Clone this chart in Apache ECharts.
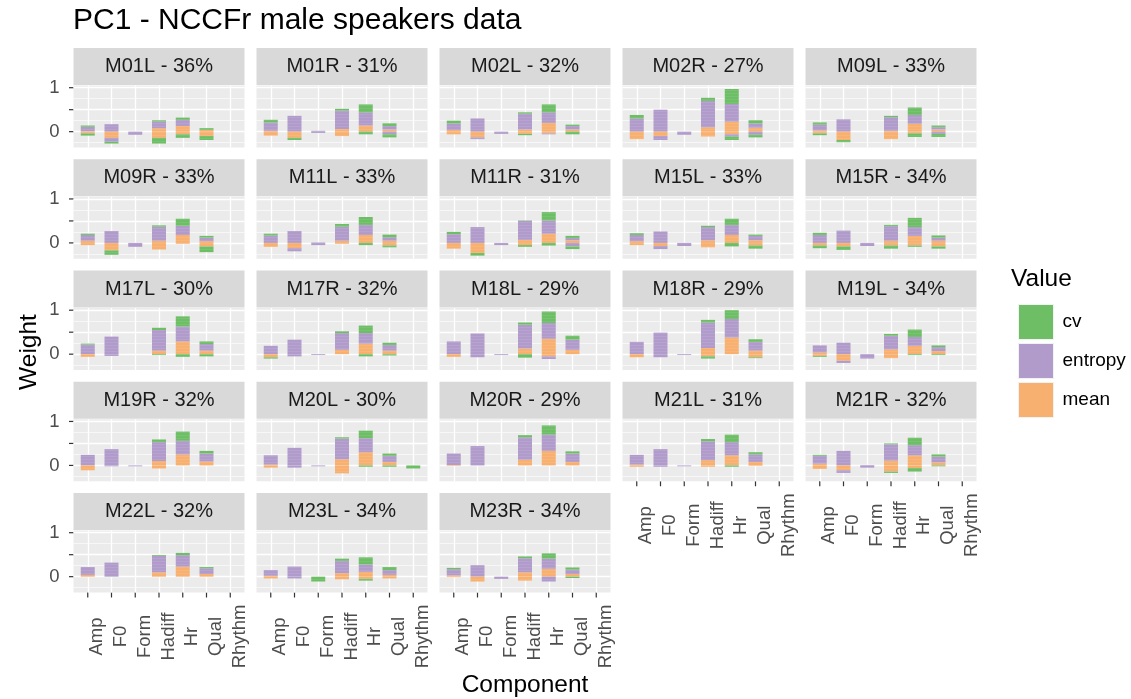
<!DOCTYPE html>
<html>
<head>
<meta charset="utf-8">
<script src="https://cdn.jsdelivr.net/npm/echarts@6/dist/echarts.min.js"></script>
<style>
  html, body { margin: 0; padding: 0; background: #fff; }
  #chart { width: 1131px; height: 699px; }
</style>
</head>
<body>
<div id="chart"></div>
<script>
// categories on the x axis of every panel
const categories = ['Amp', 'F0', 'Form', 'Hadiff', 'Hr', 'Qual', 'Rhythm'];

const panels = [
  'M01L - 36%', 'M01R - 31%', 'M02L - 32%', 'M02R - 27%', 'M09L - 33%',
  'M09R - 33%', 'M11L - 33%', 'M11R - 31%', 'M15L - 33%', 'M15R - 34%',
  'M17L - 30%', 'M17R - 32%', 'M18L - 29%', 'M18R - 29%', 'M19L - 34%',
  'M19R - 32%', 'M20L - 30%', 'M20R - 29%', 'M21L - 31%', 'M21R - 32%',
  'M22L - 32%', 'M23L - 34%', 'M23R - 34%'
];

// positive parts (stacked upward: mean, entropy, cv)
const meanPos = [
  [0.01, 0, 0, 0.08, 0.13, 0.04, 0],
  [0.02, 0, 0, 0.06, 0.14, 0.05, 0],
  [0.04, 0, 0, 0.05, 0.20, 0.05, 0],
  [0, 0, 0, 0.10, 0.23, 0.09, 0],
  [0.03, 0, 0, 0.02, 0.18, 0.05, 0],
  [0.05, 0, 0, 0.05, 0.18, 0.04, 0],
  [0, 0, 0, 0.05, 0.18, 0.05, 0],
  [0, 0, 0, 0.07, 0.21, 0.06, 0],
  [0.04, 0, 0, 0.06, 0.18, 0.06, 0],
  [0, 0, 0, 0.05, 0.16, 0.05, 0],
  [0, 0, 0, 0.08, 0.29, 0.08, 0],
  [0, 0, 0, 0.10, 0.24, 0.08, 0],
  [0, 0, 0, 0.13, 0.35, 0.10, 0],
  [0, 0, 0, 0.14, 0.38, 0.08, 0],
  [0.04, 0, 0, 0.11, 0.19, 0.07, 0],
  [0, 0, 0, 0.10, 0.25, 0.09, 0],
  [0.02, 0, 0, 0.14, 0.30, 0.08, 0],
  [0.01, 0, 0, 0.13, 0.33, 0.08, 0],
  [0.02, 0, 0, 0.12, 0.23, 0.08, 0],
  [0.04, 0, 0, 0.11, 0.23, 0.07, 0],
  [0.04, 0, 0, 0.10, 0.23, 0.06, 0],
  [0.02, 0, 0, 0.08, 0.11, 0.04, 0],
  [0.03, 0, 0, 0.10, 0.18, 0.06, 0]
];
const entropyPos = [
  [0.10, 0.17, 0, 0.15, 0.14, 0, 0],
  [0.19, 0.36, 0.02, 0.42, 0.30, 0.08, 0],
  [0.15, 0.30, 0, 0.36, 0.24, 0.08, 0],
  [0.30, 0.50, 0, 0.60, 0.40, 0.10, 0],
  [0.13, 0.28, 0, 0.31, 0.20, 0.05, 0],
  [0.13, 0.27, 0, 0.32, 0.21, 0.08, 0],
  [0.17, 0.27, 0.01, 0.32, 0.23, 0.08, 0],
  [0.20, 0.36, 0, 0.43, 0.30, 0.05, 0],
  [0.14, 0.26, 0, 0.30, 0.23, 0.10, 0],
  [0.18, 0.28, 0, 0.33, 0.20, 0.07, 0],
  [0.22, 0.40, 0, 0.47, 0.34, 0.15, 0],
  [0.19, 0.33, 0, 0.38, 0.24, 0.13, 0],
  [0.29, 0.47, 0, 0.54, 0.36, 0.23, 0],
  [0.28, 0.49, 0, 0.58, 0.42, 0.20, 0],
  [0.16, 0.26, 0, 0.31, 0.20, 0.09, 0],
  [0.24, 0.37, 0, 0.43, 0.31, 0.18, 0],
  [0.21, 0.40, 0, 0.47, 0.32, 0.14, 0],
  [0.26, 0.44, 0, 0.51, 0.37, 0.19, 0],
  [0.22, 0.37, 0, 0.43, 0.30, 0.17, 0],
  [0.18, 0.33, 0.01, 0.37, 0.23, 0.13, 0],
  [0.18, 0.32, 0, 0.37, 0.26, 0.13, 0],
  [0.13, 0.23, 0, 0.28, 0.17, 0.11, 0],
  [0.14, 0.26, 0, 0.32, 0.23, 0.10, 0]
];
const cvPos = [
  [0.03, 0, 0, 0.03, 0.05, 0.04, 0],
  [0.06, 0, 0, 0.04, 0.18, 0.06, 0],
  [0.06, 0, 0, 0.03, 0.18, 0.03, 0],
  [0.08, 0, 0, 0.07, 0.34, 0.07, 0],
  [0.05, 0, 0, 0.03, 0.17, 0.04, 0],
  [0.03, 0, 0, 0.03, 0.16, 0.04, 0],
  [0.04, 0, 0, 0.06, 0.18, 0.06, 0],
  [0.05, 0, 0, 0.01, 0.19, 0.05, 0],
  [0.04, 0, 0, 0.03, 0.14, 0.03, 0],
  [0.05, 0, 0, 0.03, 0.21, 0.05, 0],
  [0.02, 0, 0, 0.05, 0.23, 0.06, 0],
  [0, 0, 0, 0.04, 0.17, 0.05, 0],
  [0, 0, 0, 0.05, 0.26, 0.09, 0],
  [0, 0, 0, 0.06, 0.20, 0.06, 0],
  [0, 0, 0, 0.04, 0.17, 0.04, 0],
  [0, 0, 0, 0.06, 0.21, 0.06, 0],
  [0, 0, 0, 0.03, 0.17, 0.05, 0],
  [0, 0, 0, 0.05, 0.21, 0.05, 0],
  [0, 0, 0, 0.05, 0.17, 0.05, 0],
  [0.02, 0, 0, 0.02, 0.17, 0.05, 0],
  [0, 0, 0, 0.02, 0.05, 0.03, 0],
  [0, 0, 0, 0.05, 0.16, 0.07, 0],
  [0.03, 0, 0, 0.04, 0.12, 0.05, 0]
];

// negative parts (stacked downward from 0: mean, entropy, cv)
const meanNeg = [
  [-0.04, -0.14, 0, -0.14, -0.06, -0.10, 0],
  [-0.09, -0.14, 0, -0.10, 0, 0, 0],
  [-0.06, -0.13, 0, -0.05, -0.04, 0, 0],
  [-0.17, -0.10, 0, -0.11, -0.06, 0, 0],
  [-0.04, -0.19, 0, -0.17, -0.04, 0, 0],
  [-0.05, -0.17, 0, -0.15, -0.02, -0.08, 0],
  [-0.09, -0.12, 0, -0.02, 0, -0.06, 0],
  [-0.13, -0.23, 0, -0.05, 0, 0, 0],
  [-0.05, -0.07, 0, -0.10, 0, -0.06, 0],
  [-0.06, -0.08, 0, -0.06, -0.06, -0.08, 0],
  [-0.06, 0, 0, 0, 0, 0, 0],
  [-0.07, 0, 0, 0, 0, 0, 0],
  [-0.06, 0, 0, 0, -0.05, 0, 0],
  [-0.07, 0, 0, -0.05, 0, -0.07, 0],
  [-0.04, -0.15, 0, -0.09, 0, 0, 0],
  [-0.11, 0, 0, -0.07, 0, 0, 0],
  [-0.05, 0, 0, -0.18, 0, 0, 0],
  [-0.01, 0, 0, 0, 0, 0, 0],
  [-0.03, 0, 0, -0.03, 0, -0.01, 0],
  [-0.08, -0.11, 0, -0.14, -0.06, 0, 0],
  [0, 0, 0, 0, 0, 0, 0],
  [-0.04, 0, 0, -0.06, -0.05, -0.04, 0],
  [-0.01, -0.11, 0, -0.09, 0, 0, 0]
];
const entropyNeg = [
  [0, -0.09, -0.07, 0, 0, 0, 0],
  [0, 0, -0.03, 0, 0, -0.06, 0],
  [0, -0.04, -0.05, 0, -0.02, 0, 0],
  [0, -0.09, -0.07, 0, -0.05, -0.07, 0],
  [0, 0, 0, 0, 0, -0.05, 0],
  [0, 0, -0.09, 0, 0, 0, 0],
  [0, -0.07, -0.05, 0, 0, 0, 0],
  [0, 0, -0.05, 0, 0, -0.08, 0],
  [0, -0.07, -0.07, 0, 0, 0, 0],
  [0, 0, -0.07, 0, 0, 0, 0],
  [0, -0.04, 0, 0, 0, 0, 0],
  [0, -0.05, -0.02, 0, 0, 0, 0],
  [0, -0.07, -0.02, 0, -0.06, 0, 0],
  [0, -0.07, -0.02, 0, 0, 0, 0],
  [0, -0.05, -0.10, 0, 0, 0, 0],
  [0, -0.02, -0.02, 0, 0, 0, 0],
  [0, -0.05, -0.02, 0, 0, 0, 0],
  [0, 0, 0, 0, 0, 0, 0],
  [0, -0.03, -0.02, 0, 0, 0, 0],
  [0, -0.06, -0.05, 0, 0, 0, 0],
  [0, 0, 0, 0, 0, 0, 0],
  [0, -0.04, 0, 0, 0, 0, 0],
  [0, 0, -0.05, 0, -0.11, 0, 0]
];
const cvNeg = [
  [-0.05, -0.04, 0, -0.13, -0.08, -0.09, 0],
  [0, -0.05, 0, 0, -0.06, -0.07, 0],
  [0, 0, 0, -0.03, 0, -0.06, 0],
  [0, 0, 0, 0, -0.08, -0.06, 0],
  [-0.04, -0.05, 0, 0, -0.08, -0.07, 0],
  [0, -0.10, 0, 0, 0, -0.13, 0],
  [0, 0, 0, 0, -0.05, -0.04, 0],
  [0, -0.06, 0, -0.04, -0.06, -0.06, 0],
  [0, 0, 0, 0, -0.08, -0.07, 0],
  [-0.06, -0.08, 0, -0.07, -0.03, -0.05, 0],
  [0, 0, 0, -0.02, -0.06, -0.05, 0],
  [-0.03, 0, 0, 0, -0.05, -0.03, 0],
  [0, 0, 0, -0.08, 0, 0, 0],
  [0, 0, 0, -0.05, 0, -0.02, 0],
  [-0.02, 0, 0, 0, -0.02, -0.02, 0],
  [0, 0, 0, 0, 0, 0, 0],
  [0, 0, 0, 0, -0.03, -0.03, -0.07],
  [0, 0, 0, 0, 0, 0, 0],
  [0, 0, 0, 0, -0.03, 0, 0],
  [0, 0, 0, -0.03, -0.08, -0.02, 0],
  [0, 0, 0, 0, 0, 0, 0],
  [0, 0, -0.11, 0, -0.04, 0, 0],
  [0, 0, 0, 0, 0, -0.03, 0]
];

const yTicks = [0, 0.5, 1];
const yMinor = [-0.25, 0.25, 0.75];

const colors = { cv: '#6DBE65', entropy: '#B09BCB', mean: '#F7B070' };
const font = "'Liberation Sans', Arial, Helvetica, sans-serif";

const colLeft = [73.5, 256.5, 439.5, 622.5, 805.5];
const panelW = 171, panelH = 62, rowPitch = 111.25, firstTop = 85.5, stripH = 37;
const yMin = -0.36, yMax = 1.05, xMin = -0.6, xMax = 6.6;

const grid = [], xAxis = [], yAxis = [], series = [], graphic = [];

panels.forEach(function (label, g) {
  const r = Math.floor(g / 5), c = g % 5;
  const top = firstTop + r * rowPitch;
  const isLeft = c === 0;
  const isBottom = g + 5 >= panels.length;

  grid.push({
    left: colLeft[c], top: top, width: panelW, height: panelH,
    show: true, backgroundColor: '#EBEBEB', borderWidth: 0
  });

  // strip
  graphic.push({
    type: 'rect', silent: true,
    shape: { x: colLeft[c], y: top - stripH - 0.5, width: panelW, height: stripH },
    style: { fill: '#D9D9D9' }
  });
  graphic.push({
    type: 'text', silent: true,
    x: colLeft[c] + panelW / 2, y: top - stripH / 2 - 0.5,
    style: { text: label, font: '20px ' + font, fill: '#1A1A1A', align: 'center', verticalAlign: 'middle' }
  });

  xAxis.push({
    type: 'value', gridIndex: g, min: xMin, max: xMax,
    axisLine: { show: false }, splitLine: { show: false }, axisTick: { show: false },
    axisLabel: {
      show: isBottom, customValues: categories.map((_, k) => k),
      formatter: v => categories[Math.round(v)] || '',
      rotate: 90, align: 'center', verticalAlign: 'top', margin: 44,
      fontSize: 18.5, fontFamily: font, color: '#4D4D4D'
    }
  });
  yAxis.push({
    type: 'value', gridIndex: g, min: yMin, max: yMax,
    axisLine: { show: false }, splitLine: { show: false }, axisTick: { show: false },
    axisLabel: {
      show: isLeft, customValues: yTicks,
      formatter: v => (v === 0.5 ? '' : String(v)),
      margin: 14, fontSize: 18.5, fontFamily: font, color: '#4D4D4D'
    }
  });

  const gridLines = []
    .concat(yMinor.map(v => ({ yAxis: v, lineStyle: { width: 0.6 } })))
    .concat(yTicks.map(v => ({ yAxis: v, lineStyle: { width: 1.3 } })))
    .concat(categories.map((_, k) => ({ xAxis: k, lineStyle: { width: 1.3 } })));

  const parts = [
    ['mean', meanPos], ['entropy', entropyPos], ['cv', cvPos],
    ['mean', meanNeg], ['entropy', entropyNeg], ['cv', cvNeg]
  ];
  parts.forEach(function (p, j) {
    const s = {
      type: 'bar', name: p[0], xAxisIndex: g, yAxisIndex: g,
      stack: 'st' + g, barWidth: 14, z: 3,
      // value first so that the y dimension is the stacked one
      encode: { x: 1, y: 0 },
      data: p[1][g].map((v, k) => [v === 0 ? null : v, k]),
      itemStyle: {
        color: colors[p[0]],
        decal: {
          symbol: 'rect', symbolSize: 1, rotation: 0,
          dashArrayX: [1, 0], dashArrayY: [1, 2],
          color: 'rgba(255,255,255,0.08)'
        }
      },
      emphasis: { disabled: true },
      animation: false
    };
    if (j === 0) {
      s.markLine = {
        silent: true, symbol: ['none', 'none'], z: 1, animation: false,
        label: { show: false },
        lineStyle: { color: '#FFFFFF', type: 'solid' },
        emphasis: { disabled: true },
        data: gridLines
      };
    }
    series.push(s);
  });
});

// titles
graphic.push({
  type: 'text', silent: true, x: 73, y: 21,
  style: { text: 'PC1 - NCCFr male speakers data', font: '30px ' + font, fill: '#000', align: 'left', verticalAlign: 'middle' }
});
graphic.push({
  type: 'text', silent: true, x: 29, y: 352, rotation: Math.PI / 2,
  style: { text: 'Weight', font: '24.5px ' + font, fill: '#000', align: 'center', verticalAlign: 'middle' }
});
graphic.push({
  type: 'text', silent: true, x: 525, y: 685,
  style: { text: 'Component', font: '24.5px ' + font, fill: '#000', align: 'center', verticalAlign: 'middle' }
});
graphic.push({
  type: 'text', silent: true, x: 1011, y: 279,
  style: { text: 'Value', font: '24.5px ' + font, fill: '#000', align: 'left', verticalAlign: 'middle' }
});

const chart = echarts.init(document.getElementById('chart'));
chart.setOption({
  backgroundColor: '#FFFFFF',
  animation: false,
  legend: {
    data: ['cv', 'entropy', 'mean'],
    orient: 'vertical', left: 1013, top: 299,
    itemWidth: 35, itemHeight: 35, itemGap: 3, icon: 'rect',
    selectedMode: false,
    itemStyle: { decal: 'none', borderColor: '#F2F2F2', borderWidth: 1 },
    textStyle: { fontSize: 19, fontFamily: font, color: '#000', padding: [0, 0, 0, 4] }
  },
  grid: grid,
  xAxis: xAxis,
  yAxis: yAxis,
  series: series,
  graphic: graphic
});

// axis tick marks, placed through each panel's own scales
const tickStyle = { stroke: '#333333', lineWidth: 1.2 };
panels.forEach(function (label, g) {
  if (g % 5 === 0) {
    yTicks.forEach(function (v) {
      const p = chart.convertToPixel({ gridIndex: g }, [xMin, v]);
      graphic.push({ type: 'line', silent: true, shape: { x1: p[0] - 4.5, y1: p[1], x2: p[0], y2: p[1] }, style: tickStyle });
    });
  }
  if (g + 5 >= panels.length) {
    categories.forEach(function (_, k) {
      const p = chart.convertToPixel({ gridIndex: g }, [k, yMin]);
      graphic.push({ type: 'line', silent: true, shape: { x1: p[0], y1: p[1], x2: p[0], y2: p[1] + 5 }, style: tickStyle });
    });
  }
});
chart.setOption({ graphic: graphic });
</script>
</body>
</html>
